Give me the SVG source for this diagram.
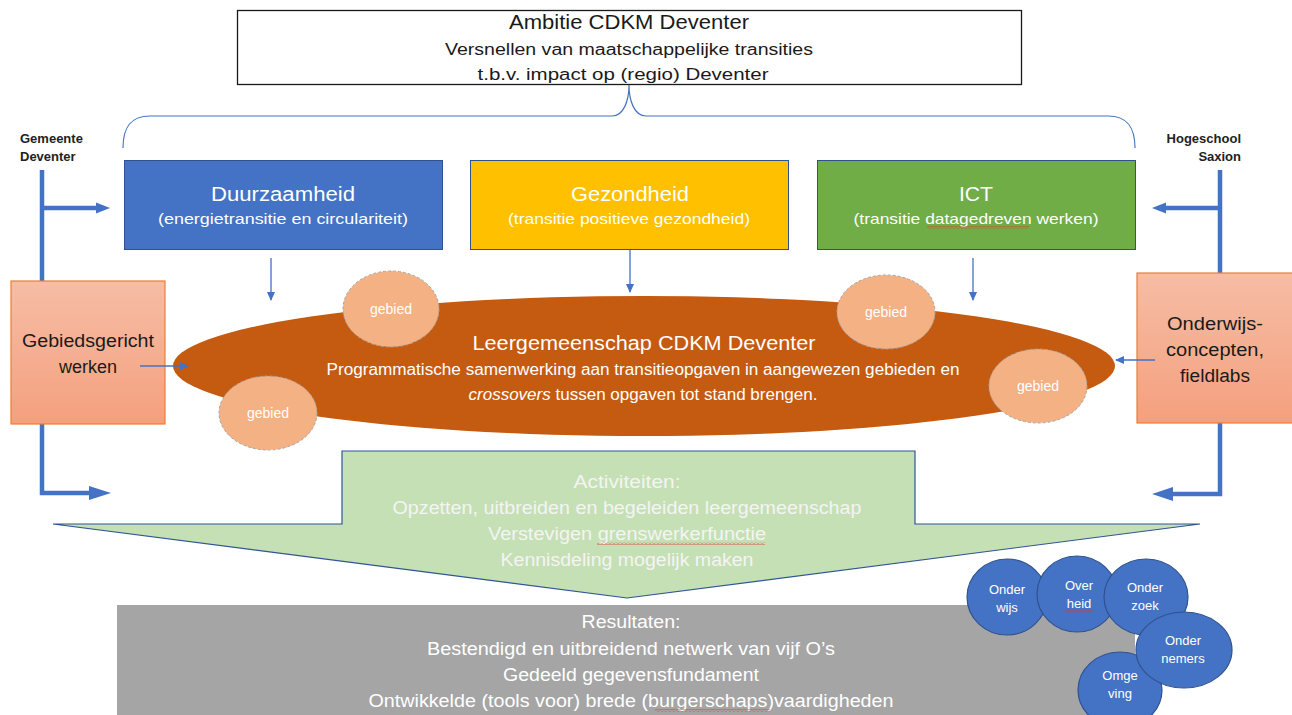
<svg xmlns="http://www.w3.org/2000/svg" width="1292" height="715" viewBox="0 0 1292 715">
<style>
  text { font-family: "Liberation Sans", Arial, sans-serif; text-anchor: middle; }
  .w { fill: #FFFFFF; }
  .lw { fill: #F4F4F4; }
  .dk { fill: #1A1A1A; }
  .t20 { font-size: 20px; }
  .t18 { font-size: 18px; }
  .t16 { font-size: 16px; }
  .t15 { font-size: 15px; }
  .t14 { font-size: 14px; }
  .t13 { font-size: 13px; }
  .lbl { font-size: 13px; font-weight: bold; fill: #222; }
  .thick { fill: none; stroke: #4472C4; stroke-width: 4.5; }
  .thickhead { fill: #4472C4; }
  .thin { fill: none; stroke: #4472C4; stroke-width: 1.3; }
  .gebied { fill: #F4B183; stroke: #A6A6A6; stroke-width: 1; stroke-dasharray: 3 2; }
  .o5 { fill: #4472C4; stroke: #2F528F; stroke-width: 1.2; }
  .theme { stroke: #2F528F; stroke-width: 1; }
  .orange { fill: url(#og); stroke: #ED7D31; stroke-width: 1.2; }
</style>
<defs>
  <linearGradient id="og" x1="0" y1="0" x2="0" y2="1">
    <stop offset="0" stop-color="#F6BDA5"/>
    <stop offset="1" stop-color="#F4A07E"/>
  </linearGradient>
  <marker id="ah" markerWidth="10" markerHeight="10" refX="8" refY="4" orient="auto" markerUnits="userSpaceOnUse">
    <path d="M0,0 L9,4 L0,8 Z" fill="#4472C4"/>
  </marker>
  <pattern id="squig" width="4" height="3" patternUnits="userSpaceOnUse">
    <polyline points="0,2.5 2,0.5 4,2.5" fill="none" stroke="#E03030" stroke-width="0.8"/>
  </pattern>
</defs>
<rect width="1292" height="715" fill="#FFFFFF"/>

<g id="ambitie">
  <rect x="237.5" y="10.5" width="784" height="74" fill="#FFFFFF" stroke="#1A1A1A" stroke-width="1.3"/>
  <text class="dk t20" x="629" y="29" textLength="240" lengthAdjust="spacingAndGlyphs">Ambitie CDKM Deventer</text>
  <text class="dk t16" x="629" y="55" textLength="368" lengthAdjust="spacingAndGlyphs">Versnellen van maatschappelijke transities</text>
  <text class="dk t16" x="623" y="80" textLength="291" lengthAdjust="spacingAndGlyphs">t.b.v. impact op (regio) Deventer</text>
</g>

<g id="brace">
  <path d="M123,148 C123,128 130,116 150,116 L612,116 C624,116 629,100 629,85 C629,100 634,116 646,116 L1108,116 C1128,116 1135,128 1135,148" fill="none" stroke="#4472C4" stroke-width="1.2"/>
</g>

<g id="duurzaamheid">
  <rect x="124.5" y="160.5" width="318" height="89" fill="#4472C4" class="theme"/>
  <text class="w t20" x="283" y="201" textLength="144" lengthAdjust="spacingAndGlyphs">Duurzaamheid</text>
  <text class="w t15" x="283" y="224" textLength="250" lengthAdjust="spacingAndGlyphs">(energietransitie en circulariteit)</text>
</g>
<g id="gezondheid">
  <rect x="470.5" y="160.5" width="318" height="89" fill="#FFC000" class="theme"/>
  <text class="w t20" x="630" y="201" textLength="118" lengthAdjust="spacingAndGlyphs">Gezondheid</text>
  <text class="w t15" x="629" y="224" textLength="242" lengthAdjust="spacingAndGlyphs">(transitie positieve gezondheid)</text>
</g>
<g id="ict">
  <rect x="817.5" y="160.5" width="318" height="89" fill="#70AD47" class="theme"/>
  <text class="w t20" x="976" y="201" textLength="34" lengthAdjust="spacingAndGlyphs">ICT</text>
  <text class="w t15" x="976" y="224" textLength="245" lengthAdjust="spacingAndGlyphs">(transitie datagedreven werken)</text>
  <rect x="927" y="226" width="102" height="3" fill="url(#squig)"/>
</g>

<g id="gemeente-label">
  <text class="lbl" x="20" y="143" style="text-anchor:start">Gemeente</text>
  <text class="lbl" x="20" y="161" style="text-anchor:start">Deventer</text>
</g>
<g id="saxion-label">
  <text class="lbl" x="1241" y="143" style="text-anchor:end">Hogeschool</text>
  <text class="lbl" x="1241" y="161" style="text-anchor:end">Saxion</text>
</g>

<g id="connectors">
  <path class="thick" d="M42,170 V493 H92"/>
  <path class="thick" d="M42,208 H98"/>
  <polygon class="thickhead" points="96,202.5 110,208 96,213.5"/>
  <polygon class="thickhead" points="89,486 111,493 89,500"/>
  <path class="thick" d="M1220,170 V494 H1172"/>
  <path class="thick" d="M1220,208 H1164"/>
  <polygon class="thickhead" points="1166,202.5 1152,208 1166,213.5"/>
  <polygon class="thickhead" points="1173,487 1152,494 1173,501"/>
</g>

<g id="gebiedsgericht">
  <rect x="11" y="281" width="154" height="143" class="orange"/>
  <text class="dk t18" x="88" y="347" textLength="132" lengthAdjust="spacingAndGlyphs">Gebiedsgericht</text>
  <text class="dk t18" x="88" y="373">werken</text>
</g>
<g id="onderwijsconcepten">
  <rect x="1137" y="273" width="160" height="150" class="orange"/>
  <text class="dk t18" x="1215" y="330" textLength="96" lengthAdjust="spacingAndGlyphs">Onderwijs-</text>
  <text class="dk t18" x="1215" y="356" textLength="98" lengthAdjust="spacingAndGlyphs">concepten,</text>
  <text class="dk t18" x="1215" y="382" textLength="70" lengthAdjust="spacingAndGlyphs">fieldlabs</text>
</g>

<g id="leergemeenschap">
  <ellipse cx="644" cy="366" rx="471" ry="70" fill="#C55A11"/>
  <text class="w t20" x="644" y="350" textLength="343" lengthAdjust="spacingAndGlyphs">Leergemeenschap CDKM Deventer</text>
  <text class="w t16" x="643" y="375" textLength="633" lengthAdjust="spacingAndGlyphs">Programmatische samenwerking aan transitieopgaven in aangewezen gebieden en</text>
  <text class="w t16" x="643" y="400" textLength="349" lengthAdjust="spacingAndGlyphs"><tspan font-style="italic">crossovers</tspan> tussen opgaven tot stand brengen.</text>
</g>

<g id="connectors-thin">
  <line class="thin" x1="271" y1="258" x2="271" y2="300" marker-end="url(#ah)"/>
  <line class="thin" x1="630" y1="250" x2="630" y2="292" marker-end="url(#ah)"/>
  <line class="thin" x1="973" y1="258" x2="973" y2="300" marker-end="url(#ah)"/>
  <line class="thin" x1="140" y1="366" x2="188" y2="366" marker-end="url(#ah)"/>
  <line class="thin" x1="1155" y1="360" x2="1116" y2="360" marker-end="url(#ah)"/>
</g>

<g id="gebied1">
  <ellipse class="gebied" cx="391" cy="309" rx="48" ry="38"/>
  <text class="w t14" x="391" y="314">gebied</text>
</g>
<g id="gebied2">
  <ellipse class="gebied" cx="268" cy="413" rx="49" ry="37"/>
  <text class="w t14" x="268" y="418">gebied</text>
</g>
<g id="gebied3">
  <ellipse class="gebied" cx="886" cy="312" rx="49" ry="37"/>
  <text class="w t14" x="886" y="317">gebied</text>
</g>
<g id="gebied4">
  <ellipse class="gebied" cx="1038" cy="386" rx="49" ry="37"/>
  <text class="w t14" x="1038" y="391">gebied</text>
</g>

<g id="resultaten">
  <rect x="117" y="605" width="1018" height="112" fill="#A5A5A5"/>
  <text class="w t18" x="631" y="628" textLength="99" lengthAdjust="spacingAndGlyphs">Resultaten:</text>
  <text class="w t18" x="631" y="655" textLength="408" lengthAdjust="spacingAndGlyphs">Bestendigd en uitbreidend netwerk van vijf O’s</text>
  <text class="w t18" x="631" y="681" textLength="256" lengthAdjust="spacingAndGlyphs">Gedeeld gegevensfundament</text>
  <text class="w t18" x="631" y="707" textLength="525" lengthAdjust="spacingAndGlyphs">Ontwikkelde (tools voor) brede (burgerschaps)vaardigheden</text>
  <rect x="655" y="709" width="115" height="3" fill="url(#squig)"/>
</g>

<g id="activiteiten">
  <polygon points="342,451 915,451 915,524 1200,524 627,598 53,524 342,524" fill="#C5E0B4" stroke="#2F5597" stroke-width="1.2"/>
  <text class="lw t18" x="627" y="488" textLength="107" lengthAdjust="spacingAndGlyphs">Activiteiten:</text>
  <text class="lw t18" x="627" y="514" textLength="469" lengthAdjust="spacingAndGlyphs">Opzetten, uitbreiden en begeleiden leergemeenschap</text>
  <text class="lw t18" x="627" y="540" textLength="278" lengthAdjust="spacingAndGlyphs">Verstevigen grenswerkerfunctie</text>
  <rect x="597" y="542" width="168" height="3" fill="url(#squig)"/>
  <text class="lw t18" x="627" y="566" textLength="253" lengthAdjust="spacingAndGlyphs">Kennisdeling mogelijk maken</text>
</g>

<g id="onderwijs">
  <ellipse class="o5" cx="1007" cy="597" rx="40" ry="38"/>
  <text class="w t13" x="1007" y="594">Onder</text>
  <text class="w t13" x="1007" y="612">wijs</text>
</g>
<g id="overheid">
  <ellipse class="o5" cx="1077" cy="594" rx="40" ry="38"/>
  <text class="w t13" x="1079" y="590">Over</text>
  <text class="w t13" x="1079" y="608">heid</text>
  <rect x="1066" y="610" width="27" height="3" fill="url(#squig)"/>
</g>
<g id="onderzoek">
  <ellipse class="o5" cx="1146" cy="597" rx="42" ry="38"/>
  <text class="w t13" x="1145" y="592">Onder</text>
  <text class="w t13" x="1145" y="610">zoek</text>
</g>
<g id="omgeving">
  <ellipse class="o5" cx="1120" cy="690" rx="42" ry="38"/>
  <text class="w t13" x="1120" y="680">Omge</text>
  <text class="w t13" x="1120" y="698">ving</text>
</g>
<g id="ondernemers">
  <ellipse class="o5" cx="1184" cy="650" rx="48" ry="38"/>
  <text class="w t13" x="1183" y="645">Onder</text>
  <text class="w t13" x="1183" y="663">nemers</text>
</g>
</svg>
